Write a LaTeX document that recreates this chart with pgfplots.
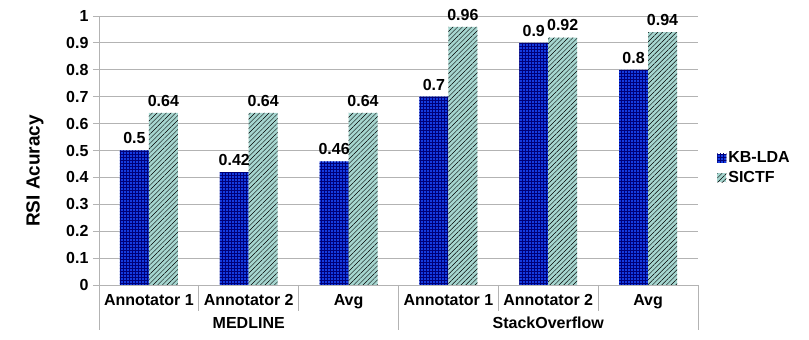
\documentclass[border=0pt]{standalone}
\usepackage{fontspec}
\setmainfont{Liberation Sans}
\usepackage{pgfplots}
\pgfplotsset{compat=1.18}
\usetikzlibrary{patterns,patterns.meta}

\definecolor{kbfill}{RGB}{20,60,225}
\definecolor{kbline}{RGB}{0,0,120}
\definecolor{sicfill}{RGB}{166,214,208}
\definecolor{gridgray}{RGB}{179,179,179}

\begin{document}
\begin{tikzpicture}[x=1pt,y=1pt]
\useasboundingbox (-99,-55) rectangle (710,285);
\begin{axis}[
    at={(0,0)}, anchor=south west,
    scale only axis,
    width=599pt, height=269pt,
    ybar, bar width=0.29,
    xmin=-0.5, xmax=5.5,
    ymin=0, ymax=1,
    xtick={0,1,2,3,4,5},
    xticklabels={Annotator 1,Annotator 2,Avg,Annotator 1,Annotator 2,Avg},
    ytick={0,0.1,0.2,0.3,0.4,0.5,0.6,0.7,0.8,0.9,1},
    yticklabels={0,0.1,0.2,0.3,0.4,0.5,0.6,0.7,0.8,0.9,1},
    major x tick style={draw=none},
    ytick style={gridgray, line width=0.8pt},
    tick align=outside, major tick length=6pt,
    ymajorgrids, grid style={gridgray, line width=0.8pt},
    axis x line*=bottom, axis y line*=left,
    axis line style={gridgray, line width=0.8pt},
    tick label style={font=\fontsize{16}{19}\selectfont\bfseries, text=black},
    yticklabel style={xshift=-1pt},
    /pgf/number format/assume math mode=true,
    ylabel={RSI Acuracy},
    every axis y label/.style={at={(rel axis cs:0,0.424)}, xshift=-64pt, rotate=90, anchor=center,
        font=\fontsize{19}{22}\selectfont\bfseries},
    nodes near coords,
    every node near coord/.append style={font=\fontsize{16}{19}\selectfont\bfseries, text=black, yshift=3pt},
    legend style={at={(1.027,0.435)}, anchor=west, draw=none, fill=none,
        font=\fontsize{16}{19}\selectfont\bfseries, row sep=3pt},
    legend cell align=left,
    legend image code/.code={\path[#1,draw=none] (0pt,-4.5pt) rectangle (9pt,4.5pt);},
    clip=false,
]
\addplot[bar shift=-0.145, fill=kbfill, draw=none, postaction={pattern=grid, pattern color=kbline}]
    coordinates {(0,0.5) (1,0.42) (2,0.46) (3,0.7) (4,0.9) (5,0.8)};
\addlegendentry{KB-LDA}
\addplot[bar shift=0.145, fill=sicfill, draw=none,
    postaction={pattern={Lines[angle=45,distance=3.3pt,line width=0.45pt]}, pattern color=black}]
    coordinates {(0,0.64) (1,0.64) (2,0.64) (3,0.96) (4,0.92) (5,0.94)};
\addlegendentry{SICTF}

% group and category separators below the axis
\draw[gridgray, line width=0.8pt] (axis cs:-0.5,0) -- ([yshift=-45pt]axis cs:-0.5,0);
\draw[gridgray, line width=0.8pt] (axis cs:2.5,0) -- ([yshift=-45pt]axis cs:2.5,0);
\draw[gridgray, line width=0.8pt] (axis cs:5.5,0) -- ([yshift=-45pt]axis cs:5.5,0);
\draw[gridgray, line width=0.8pt] (axis cs:0.5,0) -- ([yshift=-26pt]axis cs:0.5,0);
\draw[gridgray, line width=0.8pt] (axis cs:1.5,0) -- ([yshift=-26pt]axis cs:1.5,0);
\draw[gridgray, line width=0.8pt] (axis cs:3.5,0) -- ([yshift=-26pt]axis cs:3.5,0);
\draw[gridgray, line width=0.8pt] (axis cs:4.5,0) -- ([yshift=-26pt]axis cs:4.5,0);
\node[font=\fontsize{16}{19}\selectfont\bfseries] at ([yshift=-38pt]axis cs:1,0) {MEDLINE};
\node[font=\fontsize{16}{19}\selectfont\bfseries] at ([yshift=-38pt]axis cs:4,0) {StackOverflow};
\end{axis}
\end{tikzpicture}
\end{document}
